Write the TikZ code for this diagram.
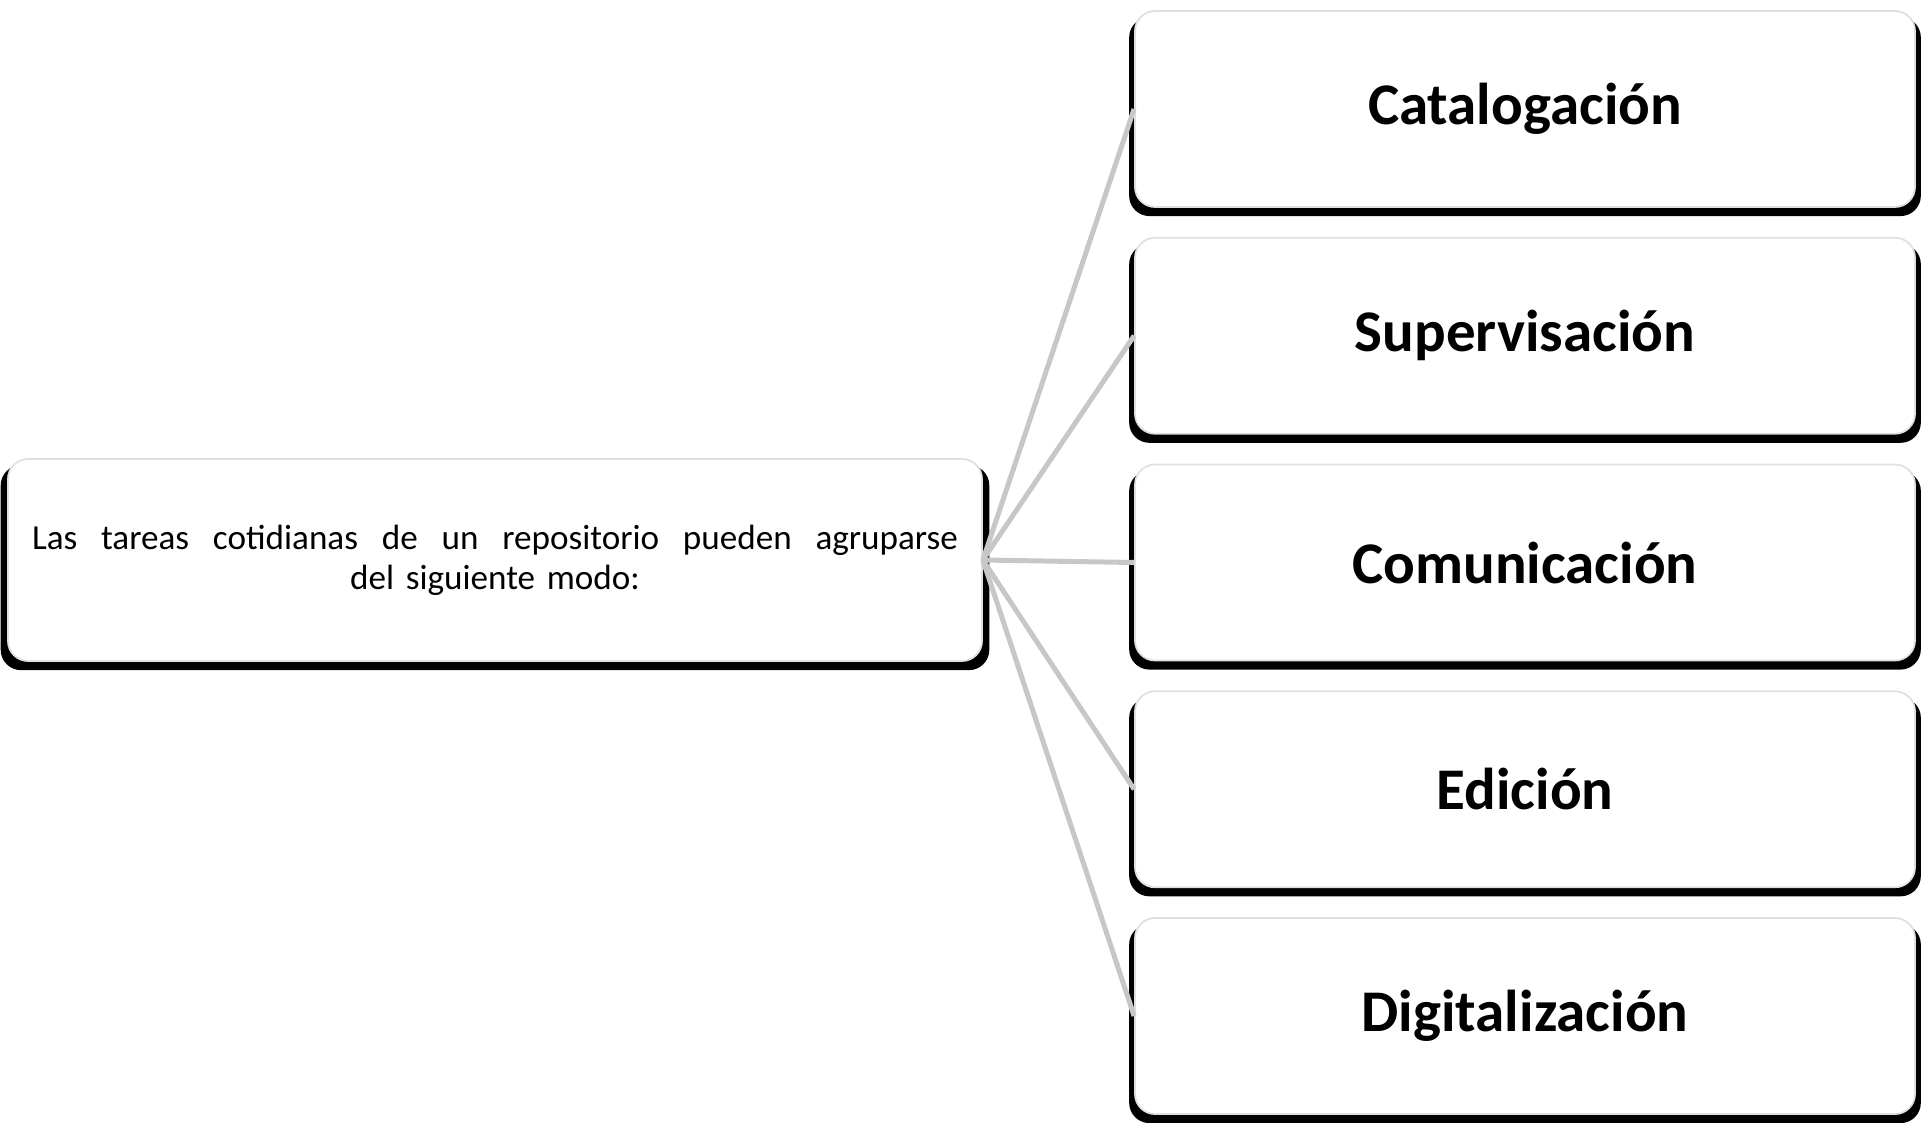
\documentclass[tikz,border=0pt]{standalone}
\usepackage{fontspec}
\setmainfont{Carlito}
\usetikzlibrary{positioning,shadows}
\begin{document}
\begin{tikzpicture}[node distance=0.29cm]
  \tikzstyle{box}=[rectangle,rounded corners=0.2cm,draw=black!12,line width=0.5pt,fill=white,
    drop shadow={shadow xshift=0cm,shadow yshift=-0.075cm,shadow scale=1.015,fill=black,opacity=1}]
  \tikzstyle{task}=[box,minimum width=7.8cm,minimum height=1.96cm,font=\fontsize{16.8}{20}\selectfont\bfseries]
  \tikzstyle{link}=[draw=black!22,line width=0.05cm]
  \useasboundingbox (0,0) rectangle (19.3,11.22);
  \node[box,minimum width=9.74cm,minimum height=2.02cm,text width=9.26cm,align=center,
    font=\fontsize{10}{11.4}\selectfont] (tareas) at (4.95,5.62)
    {\hbox to 9.26cm{Las\hfill tareas\hfill cotidianas\hfill de\hfill un\hfill repositorio\hfill pueden\hfill agruparse}\\del siguiente modo:};
  \node[task] (catalogacion) at (15.25,10.13) {Catalogación};
  \node[task,below=of catalogacion] (supervisacion) {Supervisación};
  \node[task,below=of supervisacion] (comunicacion) {Comunicación};
  \node[task,below=of comunicacion] (edicion) {Edición};
  \node[task,below=of edicion] (digitalizacion) {Digitalización};
  % links
  \foreach \t in {catalogacion,supervisacion,comunicacion,edicion,digitalizacion}
    \draw[link] (tareas.east) -- (\t.west);
\end{tikzpicture}
\end{document}
